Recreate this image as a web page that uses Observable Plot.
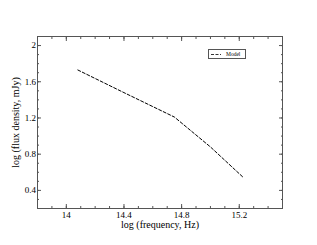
<!DOCTYPE html>
<html><head><meta charset="utf-8">
<script src="https://cdn.jsdelivr.net/npm/d3@7"></script>
<script src="https://cdn.jsdelivr.net/npm/@observablehq/plot@0.6"></script>
<style>
html,body{margin:0;padding:0;background:#fff;}
#wrap{position:relative;width:317px;height:245px;}
#legend{position:absolute;left:208px;top:49px;width:38px;height:10px;border:1px solid #555;box-sizing:border-box;background:#fff;font:5.5px "Liberation Serif",serif;display:flex;align-items:center;}
#legend span{margin-left:4px;}
</style>
</head><body>
<div id="wrap"><div id="legend"><svg width="13" height="5"><line x1="2" y1="2.5" x2="12" y2="2.5" stroke="#000" stroke-dasharray="3,1.5" stroke-width="0.8"/></svg><span>Model</span></div></div>
<script>
const seriesName = "Model";
const logFreq = [14.08, 14.4, 14.75, 15.0, 15.23];
const logFlux = [1.73, 1.48, 1.21, 0.88, 0.54];
const xTicks = [14, 14.4, 14.8, 15.2];
const yTicks = [0.4, 0.8, 1.2, 1.6, 2];
const xMinor = d3.range(13.8, 15.51, 0.1).map(v => +v.toFixed(1));
const yMinor = d3.range(0.2, 2.11, 0.1).map(v => +v.toFixed(1));

const data = logFreq.map((x, i) => ({x, y: logFlux[i]}));
const font = "Liberation Serif";
const fmt = d => String(d);
const plot = Plot.plot({
  width: 317, height: 245,
  marginLeft: 37, marginRight: 35, marginTop: 36, marginBottom: 37,
  style: {fontFamily: font, fontSize: "9px", background: "#fff", color: "#000"},
  x: {domain: [13.8, 15.5]},
  y: {domain: [0.2, 2.1]},
  marks: [
    Plot.frame({stroke: "#555"}),
    Plot.axisX(xMinor, {anchor: "bottom", tickSize: -2, text: null, stroke: "#555", label: null}),
    Plot.axisX(xMinor, {anchor: "top", tickSize: -2, text: null, stroke: "#555", label: null}),
    Plot.axisX(xTicks, {anchor: "top", tickSize: -4, text: null, stroke: "#555", label: null}),
    Plot.axisX(xTicks, {anchor: "bottom", tickSize: -4, text: null, stroke: "#555", label: null}),
    Plot.axisX(xTicks, {anchor: "bottom", tickSize: 0, tickPadding: 3, fontSize: 9, tickFormat: fmt, label: null}),
    Plot.axisX({anchor: "bottom", ticks: [], tickSize: 0, fontSize: 10, label: "log (frequency, Hz)", labelAnchor: "center", labelArrow: "none", labelOffset: 19}),
    Plot.axisY(yMinor, {anchor: "left", tickSize: -2, text: null, stroke: "#555", label: null}),
    Plot.axisY(yMinor, {anchor: "right", tickSize: -2, text: null, stroke: "#555", label: null}),
    Plot.axisY(yTicks, {anchor: "left", tickSize: -4, text: null, stroke: "#555", label: null}),
    Plot.axisY(yTicks, {anchor: "right", tickSize: -4, text: null, stroke: "#555", label: null}),
    Plot.axisY(yTicks, {anchor: "left", tickSize: 0, tickPadding: 1.5, fontSize: 9, tickFormat: fmt, label: null}),
    Plot.axisY({anchor: "left", ticks: [], tickSize: 0, fontSize: 10, label: "log (flux density, mJy)", labelAnchor: "center", labelArrow: "none", labelOffset: 26}),
    Plot.line(data, {x: "x", y: "y", stroke: "#000", strokeWidth: 1, strokeDasharray: "3,2"})
  ]
});
document.getElementById("wrap").prepend(plot);
</script>
</body></html>
